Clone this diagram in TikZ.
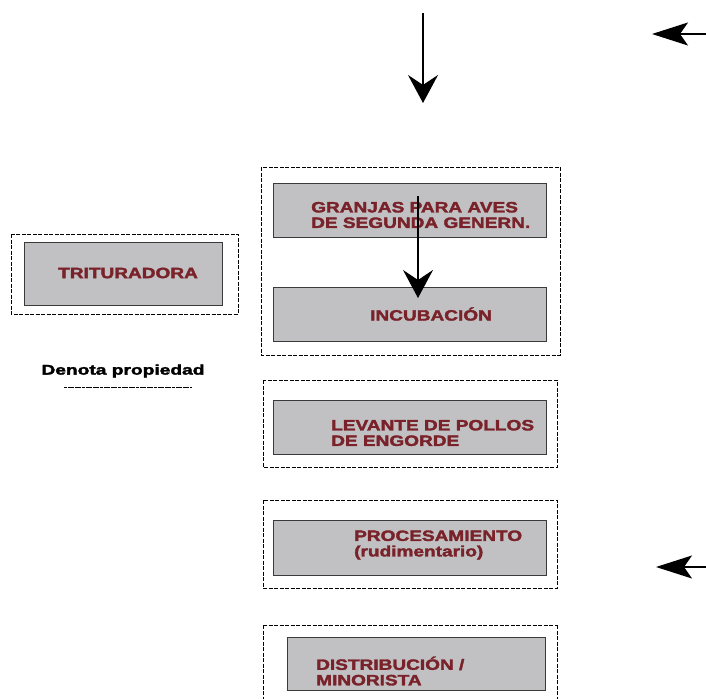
\documentclass[tikz,border=0pt]{standalone}
\usepackage{fontspec}
\setmainfont{Liberation Sans}
\newfontfamily\heavy{Liberation Sans Bold}[FakeBold=2]
\usetikzlibrary{arrows.meta}
\definecolor{boxfill}{HTML}{C1C1C4}
\definecolor{boxtext}{HTML}{7A2229}
\definecolor{boxline}{HTML}{3A3A3A}
\tikzset{
  group/.style={draw=black, line width=0.7pt, dash pattern=on 4pt off 1.5pt},
  stage/.style={draw=boxline, fill=boxfill, line width=1pt},
  label/.style={text=boxtext, font=\heavy\fontsize{15}{15.5}\selectfont, anchor=west, align=left, inner sep=0pt},
  flow/.style={line width=1.2pt, -{Stealth[length=28pt, width=30pt, inset=10pt]}},
  sideflow/.style={line width=1.2pt, -{Stealth[length=36pt, width=23pt, inset=8pt]}},
}
\newcommand{\wide}[1]{\scalebox{1.27}[1]{#1}}
\begin{document}
\begin{tikzpicture}[x=1pt,y=-1pt]
\useasboundingbox (0,0) rectangle (706,698);

% inflow arrows
\coordinate (topA) at (423,13);
\coordinate (topB) at (423,103);
\draw[flow] (topA) -- (topB);
\coordinate (rA) at (706,34);
\coordinate (rB) at (652,34);
\draw[sideflow] (rA) -- (rB);
\coordinate (r2A) at (706,567);
\coordinate (r2B) at (656,567);
\draw[sideflow] (r2A) -- (r2B);

% breeder farms and hatchery
\draw[group] (261,167) rectangle (560,355);
\draw[stage] (273,183) rectangle (546,237);
\node[label] (granjas) at (311,215) {\wide{GRANJAS PARA AVES}\\\wide{DE SEGUNDA GENERN.}};
\draw[stage] (273,287) rectangle (546,341);
\node[label] (incub) at (370,314) {\wide{INCUBACIÓN}};
\coordinate (inA) at (418,196);
\coordinate (inB) at (418,298);
\draw[flow] (inA) -- (inB);

% feed mill
\draw[group] (11,234) rectangle (238,314);
\draw[stage] (24,242) rectangle (222,305);
\node[label] (trit) at (58,273) {\wide{TRITURADORA}};

% legend
\node[font=\heavy\fontsize{14}{14}\selectfont, inner sep=0pt] (leg) at (123,371) {\scalebox{1.37}[1]{Denota propiedad}};
\draw[line width=0.5pt, dash pattern=on 3pt off 0.6pt] (64,387) -- (192,387);

% broiler grow-out
\draw[group] (263,380) rectangle (557,467);
\draw[stage] (273,400) rectangle (546,454);
\node[label] (levante) at (331,433) {\wide{LEVANTE DE POLLOS}\\\wide{DE ENGORDE}};

% processing
\draw[group] (263,500) rectangle (557,588);
\draw[stage] (273,520) rectangle (546,575);
\node[label] (proc) at (354,545) {\wide{PROCESAMIENTO}\\\wide{(rudimentario)}};

% distribution / retail
\draw[group] (263,625) -- (557,625);
\draw[group] (263,625) -- (263,700);
\draw[group] (557,625) -- (557,700);
\draw[stage] (287,637) rectangle (545,690);
\node[label] (dist) at (316,671) {\wide{DISTRIBUCIÓN /}\\\wide{MINORISTA}};
\end{tikzpicture}
\end{document}
